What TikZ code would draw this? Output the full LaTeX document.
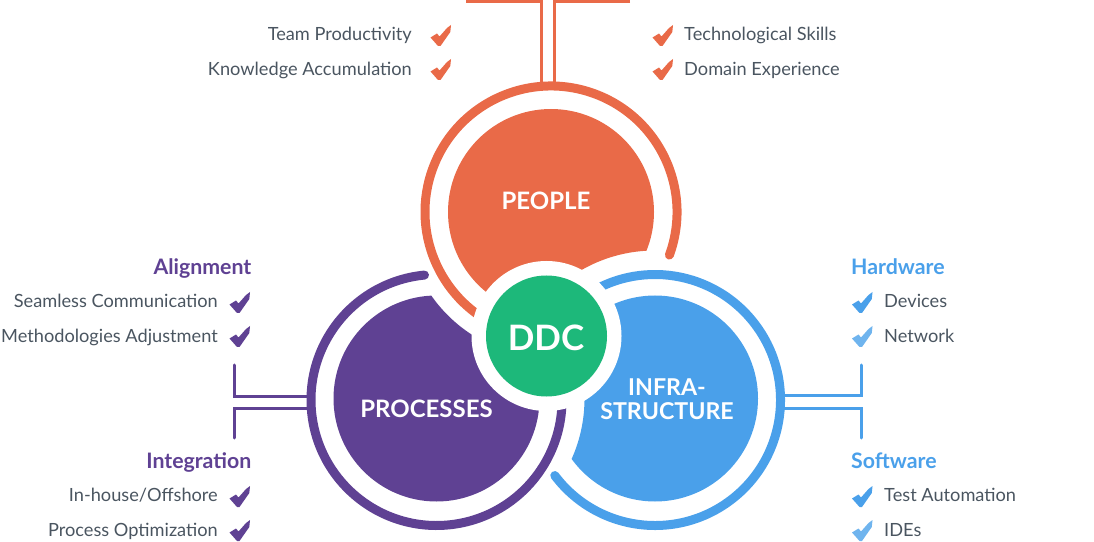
\documentclass[tikz,border=0pt]{standalone}
\usepackage{fontspec}
\setmainfont{Lato}
\definecolor{cOr}{HTML}{E96A48}
\definecolor{cPu}{HTML}{5F4193}
\definecolor{cBl}{HTML}{4AA0EA}
\definecolor{cBx}{HTML}{6FB4EE}
\definecolor{cGr}{HTML}{1DB87A}
\definecolor{cTx}{HTML}{4A5560}
\tikzset{
  x=1pt,y=1pt,
  disk/.style={circle,minimum size=206pt,inner sep=0pt,fill=#1},
  ringarc/.style={line width=9pt,draw=#1},
  link/.style={line width=3pt,draw=#1,line cap=round,line join=miter},
  item/.style={font=\fontsize{18.2}{20}\selectfont,text=cTx,inner sep=0pt},
  head/.style={font=\fontsize{21.3}{23}\selectfont\bfseries,text=#1,inner sep=0pt},
  chk/.pic={\fill[pic actions] (0,-12.5)--(6.5,-8.5)--(9,-11.5)--(16.5,-3)--(20.5,0)--(19.8,-7)--(10,-21)--(7.5,-21)--cycle;}
}
\begin{document}
\begin{tikzpicture}
\useasboundingbox (0,0) rectangle (1094,541);
\coordinate (cP) at (551,329);
\coordinate (cR) at (436.5,142.5);
\coordinate (cI) at (655,142.5);
% connectors
\coordinate (tl) at (466,539);
\coordinate (tlr) at (541,455);
\coordinate (tr) at (630,539.5);
\coordinate (trr) at (554,455);
\coordinate (la) at (234.5,176);
\coordinate (lar) at (309,145);
\coordinate (lb) at (234,103);
\coordinate (lbr) at (309,133);
\coordinate (ra) at (861,176);
\coordinate (rar) at (783,145.5);
\coordinate (rb) at (861.5,103);
\coordinate (rbr) at (783,133);
\draw[link=cOr,line cap=butt] (tl) -| (tlr);
\draw[link=cOr,line cap=butt] (tr) -| (trr);
\draw[link=cPu] (la) |- (lar);
\draw[link=cPu] (lb) |- (lbr);
\draw[link=cBl] (ra) |- (rar);
\draw[link=cBl] (rb) |- (rbr);
% disks (each cut by the white zone of its neighbour)
\begin{scope}
  \clip (0,0)--(0,541)--(1094,541)--(1094,0)--cycle (cI) circle (148);
  \node[disk=cOr] (people) at (cP) {};
\end{scope}
\begin{scope}
  \clip (0,0)--(0,541)--(1094,541)--(1094,0)--cycle (cP) circle (146);
  \node[disk=cPu] (processes) at (cR) {};
\end{scope}
\begin{scope}
  \clip (0,0)--(0,541)--(1094,541)--(1094,0)--cycle (cR) circle (148);
  \node[disk=cBl] (infra) at (cI) {};
\end{scope}
% rings
\draw[ringarc=cOr,line cap=round] (people.center) ++(-20:126) arc[start angle=-20,end angle=245,radius=126];
\draw[ringarc=cPu,line cap=round] ([yshift=-1.5pt]processes.center) ++(95.5:125.5) arc[start angle=95.5,end angle=365,radius=125.5];
\draw[ringarc=cBl,line cap=round] ([yshift=-1.5pt]infra.center) ++(217:125.5) arc[start angle=217,end angle=485,radius=125.5];
% centre
\node[circle,fill=white,minimum size=150pt,inner sep=0pt] (halo) at (546.5,205) {};
\node[circle,fill=cGr,minimum size=121pt,inner sep=0pt] (ddc) at (halo) {};
\node[inner sep=0pt,text=white,font=\fontsize{35}{36}\selectfont\bfseries] (ddct) at (546,203.5) {DDC};
% disk labels
\node[inner sep=0pt,text=white,font=\fontsize{24}{25}\selectfont\bfseries] (lp) at (546,340.5) {PEOPLE};
\node[inner sep=0pt,text=white,font=\fontsize{24}{25}\selectfont\bfseries] (lr) at (426.5,132) {PROCESSES};
\node[inner sep=0pt,text=white,font=\fontsize{23.2}{24}\selectfont\bfseries,align=center] (li) at (667,142) {INFRA-\\STRUCTURE};
% top lists
\node[item,anchor=base east] (t1) at (412,500) {Team Productivity};
\node[item,anchor=base east] (t2) at (412,465) {Knowledge Accumulation};
\node[item,anchor=base west] (t3) at (684,500) {Technological Skills};
\node[item,anchor=base west] (t4) at (684,465) {Domain Experience};
\pic[fill=cOr] at (430.5,516) {chk};
\pic[fill=cOr] at (430.5,482) {chk};
\pic[fill=cOr] at (652.5,516) {chk};
\pic[fill=cOr] at (652.5,482) {chk};
% left lists
\node[head=cPu,anchor=base east] (h1) at (251.5,266) {Alignment};
\node[item,anchor=base east] (l1) at (218,233) {Seamless Communication};
\node[item,anchor=base east] (l2) at (218,198) {Methodologies Adjustment};
\node[head=cPu,anchor=base east] (h2) at (251.5,72.5) {Integration};
\node[item,anchor=base east] (l3) at (218,40) {In-house/Offshore};
\node[item,anchor=base east] (l4) at (218,5) {Process Optimization};
\pic[fill=cPu] at (229.5,249) {chk};
\pic[fill=cPu] at (229.5,215) {chk};
\pic[fill=cPu] at (229.5,55) {chk};
\pic[fill=cPu] at (229.5,21) {chk};
% right lists
\node[head=cBl,anchor=base west] (h3) at (851,266) {Hardware};
\node[item,anchor=base west] (r1) at (884,233) {Devices};
\node[item,anchor=base west] (r2) at (884,198) {Network};
\node[head=cBl,anchor=base west] (h4) at (851,72.5) {Software};
\node[item,anchor=base west] (r3) at (884,40) {Test Automation};
\node[item,anchor=base west] (r4) at (884,5) {IDEs};
\pic[fill=cBl] at (852,249) {chk};
\pic[fill=cBx] at (852,215) {chk};
\pic[fill=cBl] at (852,55) {chk};
\pic[fill=cBx] at (852,21) {chk};
\end{tikzpicture}
\end{document}
